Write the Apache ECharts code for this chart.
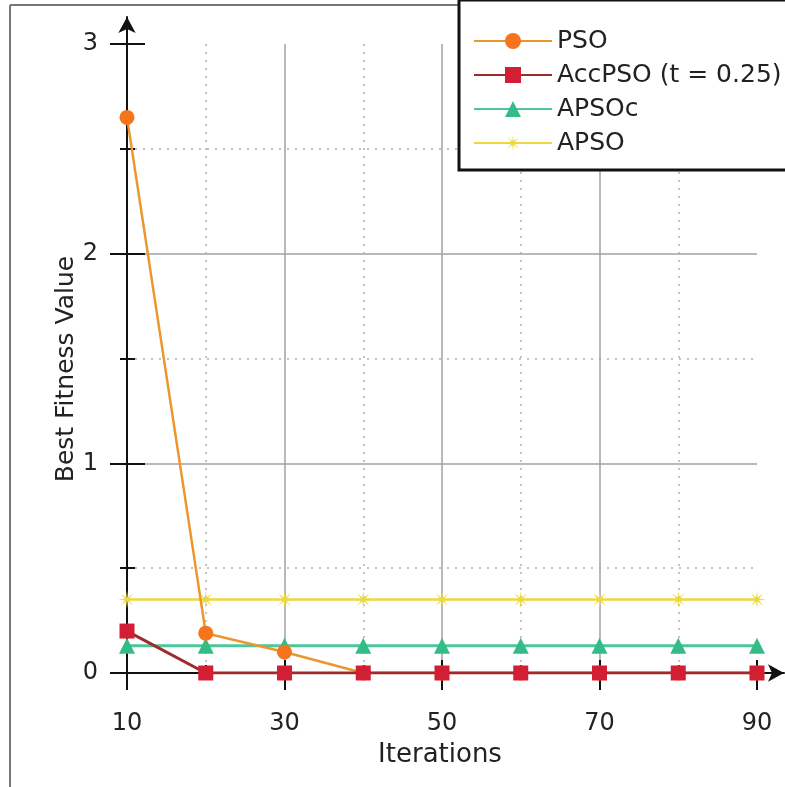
<!DOCTYPE html>
<html><head><meta charset="utf-8">
<script src="https://cdn.jsdelivr.net/npm/echarts@6/dist/echarts.min.js"></script>
<style>html,body{margin:0;padding:0;background:#fff}#c{width:785px;height:787px}</style>
</head><body><div id="c"></div>
<script>
// ---- data ----
const iterations = [10, 20, 30, 40, 50, 60, 70, 80, 90];
const psoValues    = [2.65, 0.19, 0.10, 0, 0, 0, 0, 0, 0];
const accPsoValues = [0.20, 0, 0, 0, 0, 0, 0, 0, 0];
const apsocValues  = [0.13, 0.13, 0.13, 0.13, 0.13, 0.13, 0.13, 0.13, 0.13];
const apsoValues   = [0.35, 0.35, 0.35, 0.35, 0.35, 0.35, 0.35, 0.35, 0.35];
const seriesNames = ['PSO', 'AccPSO (t = 0.25)', 'APSOc', 'APSO'];
const xTicks = [10, 30, 50, 70, 90];
const yTicks = [0, 1, 2, 3];

const FONT = 'DejaVu Sans';
const pair = v => iterations.map((x, i) => [x, v[i]]);
const starPath = 'path://M0,-10 L0.92,-2.22 L7.07,-7.07 L2.22,-0.92 L10,0 L2.22,0.92 L7.07,7.07 L0.92,2.22 L0,10 L-0.92,2.22 L-7.07,7.07 L-2.22,0.92 L-10,0 L-2.22,-0.92 L-7.07,-7.07 L-0.92,-2.22 Z';

const chart = echarts.init(document.getElementById('c'), null, {renderer: 'canvas'});
const tickStyle = {color: '#111', width: 2};
const solidGrid = {show: true, lineStyle: {color: '#a2a2a2', width: 1.5}, showMinLine: false, showMaxLine: false};
const dotGrid = {show: true, lineStyle: {color: '#b0b0b0', width: 1.5, type: [2, 6]}};

const xBase = {type: 'value', gridIndex: 0, min: xTicks[0], max: xTicks[xTicks.length - 1], interval: 20};
const yBase = {type: 'value', gridIndex: 0, min: yTicks[0], max: yTicks[yTicks.length - 1], interval: 1};

chart.setOption({
  animation: false,
  backgroundColor: '#fff',
  grid: [
    {left: 127, right: 28, top: 44, bottom: 114},
    {left: 127, right: 1, top: 17, bottom: 114}
  ],
  xAxis: [
    Object.assign({}, xBase, {
      position: 'bottom',
      axisLine: {show: false},
      axisTick: {show: true, inside: false, length: 17, lineStyle: tickStyle},
      minorTick: {show: true, splitNumber: 2, length: 7, lineStyle: tickStyle},
      splitLine: solidGrid,
      minorSplitLine: dotGrid,
      axisLabel: {margin: 39, fontFamily: FONT, fontSize: 24, color: '#222',
        formatter: v => xTicks.includes(v) ? String(v) : ''}
    }),
    Object.assign({}, xBase, {
      position: 'bottom',
      axisLine: {show: false},
      axisTick: {show: true, inside: true, length: 13, lineStyle: tickStyle},
      minorTick: {show: true, splitNumber: 2, length: 8, lineStyle: tickStyle},
      splitLine: {show: false}, axisLabel: {show: false}
    }),
    {type: 'value', gridIndex: 1, min: 0, max: 1, position: 'bottom',
      axisLine: {show: true, symbol: ['none', 'arrow'], symbolSize: [13, 16], lineStyle: {color: '#111', width: 2}},
      axisTick: {show: false}, axisLabel: {show: false}, splitLine: {show: false}}
  ],
  yAxis: [
    Object.assign({}, yBase, {
      position: 'left',
      axisLine: {show: false},
      axisTick: {show: true, inside: false, length: 17, lineStyle: tickStyle},
      minorTick: {show: true, splitNumber: 2, length: 7, lineStyle: tickStyle},
      splitLine: solidGrid,
      minorSplitLine: dotGrid,
      axisLabel: {margin: 29, fontFamily: FONT, fontSize: 24, color: '#222'}
    }),
    Object.assign({}, yBase, {
      position: 'left',
      axisLine: {show: false},
      axisTick: {show: true, inside: true, length: 18, lineStyle: tickStyle},
      minorTick: {show: true, splitNumber: 2, length: 8, lineStyle: tickStyle},
      splitLine: {show: false}, axisLabel: {show: false}
    }),
    {type: 'value', gridIndex: 1, min: 0, max: 1, position: 'left',
      axisLine: {show: true, symbol: ['none', 'arrow'], symbolSize: [13, 16], lineStyle: {color: '#111', width: 2}},
      axisTick: {show: false}, axisLabel: {show: false}, splitLine: {show: false}}
  ],
  legend: {
    left: 459, top: 0,
    orient: 'vertical',
    data: seriesNames,
    backgroundColor: '#fff',
    borderColor: '#111', borderWidth: 3,
    padding: [26, 14, 12, 14],
    itemWidth: 78, itemHeight: 20, itemGap: 4,
    textStyle: {fontFamily: FONT, fontSize: 25, color: '#222', lineHeight: 30}
  },
  graphic: [
    {type: 'line', shape: {x1: 10, y1: 5, x2: 10, y2: 787}, style: {stroke: '#777', lineWidth: 2}, z: 0},
    {type: 'line', shape: {x1: 10, y1: 5, x2: 785, y2: 5}, style: {stroke: '#777', lineWidth: 2}, z: 0},
    {type: 'text', x: 440, y: 755, style: {text: 'Iterations', fontFamily: FONT, fontSize: 26, fill: '#222', textAlign: 'center', textVerticalAlign: 'middle'}},
    {type: 'text', rotation: Math.PI / 2, x: 66, y: 369, style: {text: 'Best Fitness Value', fontFamily: FONT, fontSize: 25, fill: '#222', textAlign: 'center', textVerticalAlign: 'middle'}}
  ],
  series: [
    {name: seriesNames[0], type: 'line', data: pair(psoValues), symbol: 'circle', symbolSize: 15,
      itemStyle: {color: '#f5741c'}, lineStyle: {color: '#eb962e', width: 2.5}, z: 4},
    {name: seriesNames[1], type: 'line', data: pair(accPsoValues), symbol: 'rect', symbolSize: 15,
      itemStyle: {color: '#d31f33'}, lineStyle: {color: '#9e2b2b', width: 3}, z: 5},
    {name: seriesNames[2], type: 'line', data: pair(apsocValues), symbol: 'triangle', symbolSize: 16,
      itemStyle: {color: '#34bc86'}, lineStyle: {color: '#4cc69a', width: 3}, z: 3},
    {name: seriesNames[3], type: 'line', data: pair(apsoValues), symbol: starPath, symbolSize: 18,
      itemStyle: {color: '#ecd93e'}, lineStyle: {color: '#ecd93e', width: 2.5}, z: 2}
  ]
});
</script></body></html>
